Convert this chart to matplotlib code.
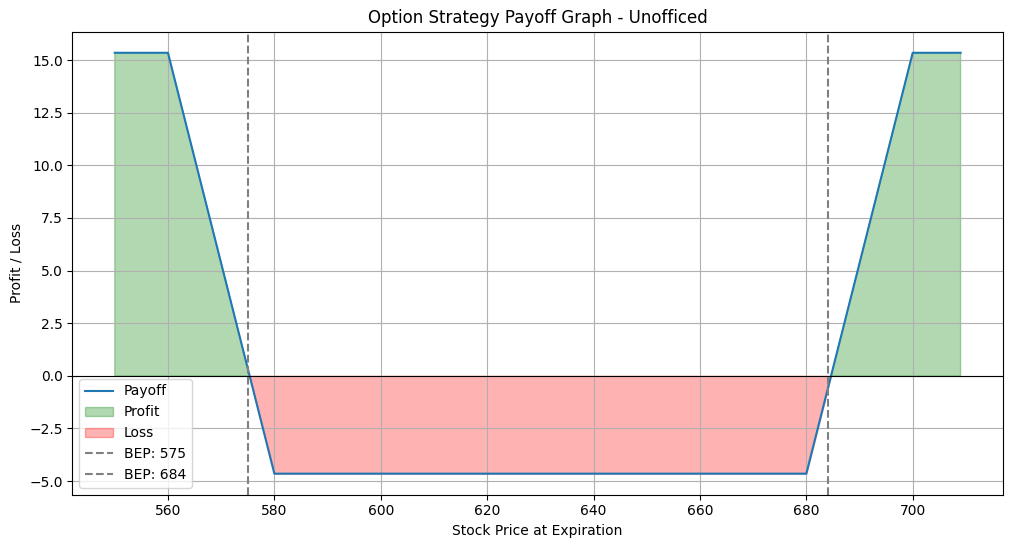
import matplotlib
matplotlib.use("Agg")
import matplotlib.pyplot as plt
import numpy as np

# Payoff breakpoints (stock price, profit/loss)
prices = [550, 560, 575.35, 580, 680, 684.65, 700, 709]
payoff = [15.35, 15.35, 0.0, -4.65, -4.65, 0.0, 15.35, 15.35]
bep_values = [575, 684]

x = np.array(prices)
y = np.array(payoff)

fig, ax = plt.subplots(figsize=(10.12, 5.47), dpi=100)
fig.subplots_adjust(left=0.0716, right=0.991, top=0.942, bottom=0.0956)

ax.plot(x, y, label="Payoff", color="#1f77b4")
ax.fill_between(x, y, 0, where=(y >= 0), color="green", alpha=0.3, label="Profit", interpolate=True)
ax.fill_between(x, y, 0, where=(y <= 0), color="red", alpha=0.3, label="Loss", interpolate=True)
ax.axhline(0, color="black", linewidth=0.8)
for v in bep_values:
    ax.axvline(v, color="gray", linestyle="--", label=f"BEP: {v}")

ax.set_title("Option Strategy Payoff Graph - Unofficed")
ax.set_xlabel("Stock Price at Expiration")
ax.set_ylabel("Profit / Loss")
ax.grid(True)
ax.legend(loc="lower left")

fig.savefig("out.png", dpi=100)
